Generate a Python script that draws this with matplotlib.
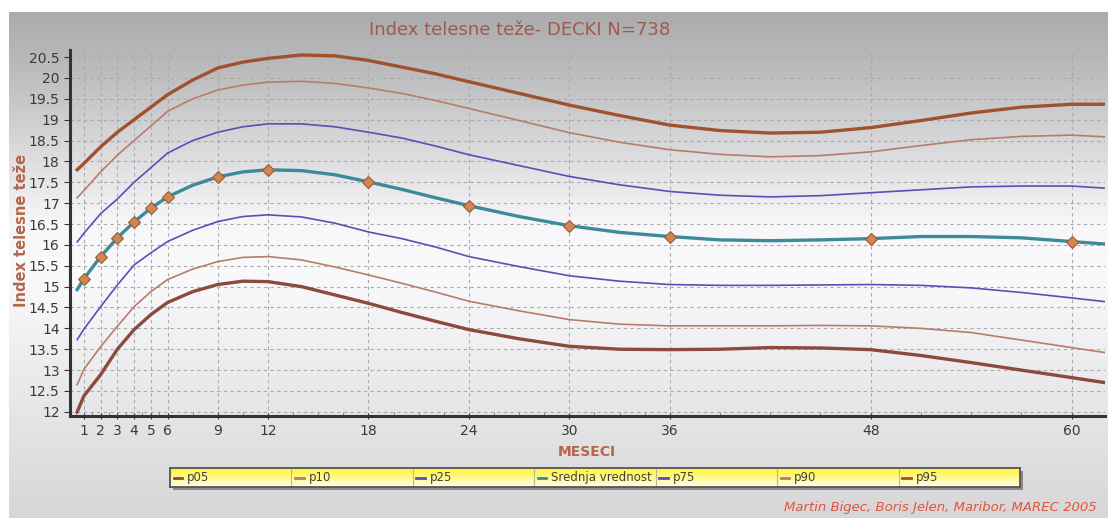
import numpy as np
import matplotlib
matplotlib.use('Agg')
from matplotlib import pyplot as plt
from matplotlib.lines import Line2D

# months (x) shared by all curves
months = [0.6, 1, 2, 3, 4, 5, 6, 7.5, 9, 10.5, 12, 14, 16, 18, 20, 22, 24,
          27, 30, 33, 36, 39, 42, 45, 48, 51, 54, 57, 60, 62]

p95 = [17.8, 17.95, 18.35, 18.7, 19.0, 19.3, 19.6, 19.95, 20.24, 20.38, 20.47,
       20.55, 20.53, 20.42, 20.26, 20.1, 19.91, 19.63, 19.35, 19.1, 18.87,
       18.74, 18.68, 18.7, 18.81, 18.98, 19.16, 19.3, 19.37, 19.37]
p90 = [17.13, 17.3, 17.75, 18.15, 18.5, 18.85, 19.2, 19.5, 19.71, 19.83, 19.9,
       19.92, 19.87, 19.76, 19.63, 19.46, 19.27, 18.98, 18.69, 18.46, 18.28,
       18.17, 18.11, 18.14, 18.23, 18.38, 18.52, 18.6, 18.63, 18.59]
p75 = [16.07, 16.28, 16.75, 17.1, 17.5, 17.85, 18.2, 18.5, 18.7, 18.83, 18.9,
       18.9, 18.83, 18.7, 18.56, 18.37, 18.16, 17.9, 17.64, 17.44, 17.28,
       17.19, 17.15, 17.18, 17.25, 17.32, 17.39, 17.41, 17.41, 17.36]
mean = [14.93, 15.19, 15.72, 16.17, 16.55, 16.88, 17.15, 17.43, 17.63, 17.75,
        17.8, 17.78, 17.68, 17.51, 17.33, 17.13, 16.94, 16.68, 16.46, 16.3,
        16.2, 16.12, 16.1, 16.12, 16.15, 16.2, 16.2, 16.17, 16.08, 16.02]
p25 = [13.73, 13.98, 14.52, 15.04, 15.52, 15.81, 16.08, 16.35, 16.56, 16.68,
       16.72, 16.67, 16.52, 16.31, 16.15, 15.95, 15.72, 15.48, 15.26, 15.13,
       15.05, 15.03, 15.03, 15.04, 15.05, 15.03, 14.97, 14.86, 14.73, 14.64]
p10 = [12.65, 13.02, 13.56, 14.05, 14.52, 14.88, 15.17, 15.42, 15.6, 15.7,
       15.72, 15.64, 15.47, 15.28, 15.08, 14.87, 14.65, 14.42, 14.21, 14.1,
       14.06, 14.06, 14.06, 14.07, 14.06, 14.0, 13.9, 13.72, 13.54, 13.42]
p05 = [12.0, 12.38, 12.89, 13.5, 13.97, 14.33, 14.62, 14.88, 15.05, 15.13,
       15.12, 15.0, 14.8, 14.6, 14.38, 14.17, 13.97, 13.75, 13.57, 13.5,
       13.49, 13.5, 13.54, 13.53, 13.49, 13.35, 13.18, 13.0, 12.82, 12.7]

marker_months = [1, 2, 3, 4, 5, 6, 9, 12, 18, 24, 30, 36, 48, 60]
xticks = [1, 2, 3, 4, 5, 6, 9, 12, 18, 24, 30, 36, 48, 60]
yticks = np.arange(12, 20.51, 0.5)

series = [
    ('p05', p05, '#8a4a3c', 2.4),
    ('p10', p10, '#b97c68', 1.2),
    ('p25', p25, '#5a4fb4', 1.2),
    ('Srednja vrednost', mean, '#3d8a9a', 2.4),
    ('p75', p75, '#5a4fb4', 1.2),
    ('p90', p90, '#b97c68', 1.2),
    ('p95', p95, '#a0512e', 2.4),
]

W, H = 1108, 518
fig = plt.figure(figsize=(W / 100, H / 100), dpi=100)
fig.patch.set_facecolor('white')

# background gradient panel (gray top -> white middle -> light gray bottom)
bg = fig.add_axes([9 / W, 0, 1 - 9 / W, (H - 12) / H], zorder=0)
stops = np.array([0.0, 0.12, 0.42, 0.52, 1.0])
vals = np.array([0.67, 0.74, 0.97, 0.98, 0.84])
g = np.interp(np.linspace(0, 1, 256), stops, vals)[:, None]
img = np.dstack([g, g, np.clip(g * 1.01, 0, 1)])
bg.imshow(img, aspect='auto', extent=[0, 1, 0, 1])
bg.set_axis_off()

ax = fig.add_axes([70 / W, (H - 416) / H, (1105 - 70) / W, (416 - 50) / H], zorder=2)
ax.set_facecolor('none')
for name, vals_, col, lw in series:
    if name == 'Srednja vrednost':
        idx = [months.index(m) for m in marker_months]
        ax.plot(months, vals_, color=col, lw=lw, marker='D', markevery=idx,
                markersize=6.5, markerfacecolor='#d0864e', markeredgecolor='#9a5a36',
                markeredgewidth=0.8, zorder=4)
    else:
        ax.plot(months, vals_, color=col, lw=lw, zorder=3)

ax.set_xlim(0.17, 62)
ax.set_ylim(11.9, 20.67)
ax.set_xticks(xticks)
ax.set_yticks(yticks)
ax.set_yticklabels(['%g' % v for v in yticks])
minor = list(np.arange(0.5, 6, 0.5)) + list(np.arange(7.5, 36, 1.5)) + list(np.arange(39, 62, 3))
ax.set_xticks(minor, minor=True)
ax.tick_params(axis='both', labelsize=10, colors='#333333', labelcolor='#3a3a3a')
ax.tick_params(axis='x', which='major', length=4, direction='inout')
ax.tick_params(axis='x', which='minor', length=3, direction='in', color='#777777')
ax.tick_params(axis='y', length=4)
ax.grid(True, which='major', color='#aaaaaa', linestyle=(0, (3, 3)), lw=0.8)
for s in ['top', 'right']:
    ax.spines[s].set_visible(False)
for s in ['left', 'bottom']:
    ax.spines[s].set_linewidth(2.2)
    ax.spines[s].set_color('#333333')

fig.text(520 / W, 1 - 30 / H, 'Index telesne teže- DECKI N=738', ha='center', va='center',
         fontsize=13, color='#a05a4a')
fig.text(22 / W, 1 - 230 / H, 'Index telesne teže', rotation=90, ha='center', va='center',
         fontsize=10.5, fontweight='bold', color='#b5664a')
fig.text(587 / W, 1 - 452 / H, 'MESECI', ha='center', va='center',
         fontsize=10, fontweight='bold', color='#b5664a')
fig.text(1097 / W, 1 - 507 / H, 'Martin Bigec, Boris Jelen, Maribor, MAREC 2005',
         ha='right', va='center', fontsize=9.5, style='italic', color='#e0563c')

# legend strip
lx0, lx1, ly0, ly1 = 170, 1020, 468, 487
shadow = fig.add_axes([(lx0 + 3) / W, (H - ly1 - 3) / H, (lx1 - lx0) / W, (ly1 - ly0) / H], zorder=4)
shadow.set_facecolor('#8a8a8a')
shadow.set_xticks([])
shadow.set_yticks([])
for s in shadow.spines.values():
    s.set_visible(False)
leg = fig.add_axes([lx0 / W, (H - ly1) / H, (lx1 - lx0) / W, (ly1 - ly0) / H], zorder=5)
yg = np.linspace(0, 1, 64)[:, None]
yel = np.dstack([np.ones_like(yg), 0.96 + 0.03 * yg, 0.2 + 0.72 * yg])
leg.imshow(yel, aspect='auto', extent=[0, 7, 0, 1])
leg.set_xlim(0, 7)
leg.set_ylim(0, 1)
leg.set_xticks([])
leg.set_yticks([])
for s in leg.spines.values():
    s.set_color('#555555')
    s.set_linewidth(1.3)
for i, (name, vals_, col, lw) in enumerate(series):
    if i > 0:
        leg.axvline(i, color='#b8b8a0', lw=0.8)
    leg.add_line(Line2D([i + 0.03, i + 0.1], [0.5, 0.5], color=col, lw=2))
    leg.text(i + 0.14, 0.48, name, ha='left', va='center', fontsize=8.5,
             color='#404040', family=['Liberation Sans Narrow', 'DejaVu Sans'])

plt.savefig('out.png', dpi=100)
